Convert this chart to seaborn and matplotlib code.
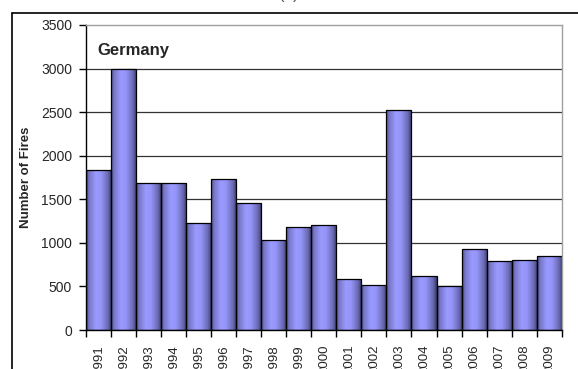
import matplotlib
matplotlib.use('Agg')
import matplotlib.pyplot as plt
import seaborn as sns
import numpy as np
import pandas as pd
from matplotlib.colors import LinearSegmentedColormap
from matplotlib.lines import Line2D

# ---- data ----
years = ['1991', '1992', '1993', '1994', '1995', '1996', '1997', '1998', '1999', '2000',
         '2001', '2002', '2003', '2004', '2005', '2006', '2007', '2008', '2009']
fires = [1840, 3000, 1690, 1690, 1230, 1735, 1460, 1030, 1180, 1200,
         590, 515, 2520, 615, 500, 925, 790, 800, 845]
y_ticks = [0, 500, 1000, 1500, 2000, 2500, 3000, 3500]
country = 'Germany'
y_title = 'Number of Fires'

sns.set_theme(style='white')
plt.rcParams['font.family'] = ['Liberation Sans', 'DejaVu Sans']

W, H = 578, 369
fig = plt.figure(figsize=(W / 100, H / 100), dpi=100)
ax = fig.add_axes([86 / W, 39 / H, 475.7 / W, 305 / H])

df = pd.DataFrame({'year': years, 'fires': fires})
sns.barplot(data=df, x='year', y='fires', order=years, color='#9999ff',
            width=1.0, edgecolor='black', linewidth=0.9, ax=ax, zorder=3)

# cylinder-like horizontal gradient inside each bar
cmap = LinearSegmentedColormap.from_list(
    'bar', [(0.0, '#4e4e8a'), (0.12, '#7777c8'), (0.38, '#9a9aff'),
            (0.58, '#9595f8'), (0.85, '#6a6ab4'), (1.0, '#3a3a6a')])
grad = np.linspace(0, 1, 64).reshape(1, -1)
for p in ax.patches:
    x0, w, h = p.get_x(), p.get_width(), p.get_height()
    im = ax.imshow(grad, extent=[x0, x0 + w, 0, h], aspect='auto', cmap=cmap,
                   interpolation='bilinear', zorder=2)
    im.set_clip_path(p)
    p.set_facecolor('none')
    p.set_zorder(3)

ax.set_aspect('auto')
ax.set_xlim(-0.5, len(years) - 0.5)
ax.set_ylim(y_ticks[0], y_ticks[-1])
ax.set_yticks(y_ticks)
ax.set_yticklabels([str(t) for t in y_ticks], fontsize=10)
ax.set_xticks(range(len(years)))
ax.set_xticklabels(years, rotation=90, fontsize=9.5)
ax.set_xticks(np.arange(-0.5, len(years), 1), minor=True)

ax.tick_params(axis='x', which='major', length=0, pad=10.5)
ax.tick_params(axis='x', which='minor', length=5, width=1, color='black',
               direction='out', bottom=True)
ax.tick_params(axis='y', which='major', length=5, width=1, color='black',
               direction='out', left=True, pad=5)

ax.yaxis.grid(True, color='#333333', linewidth=0.9)
ax.xaxis.grid(False)
ax.set_axisbelow(True)
gl = ax.yaxis.get_gridlines()
gl[0].set_visible(False)
gl[-1].set_visible(False)

for s in ['left', 'bottom']:
    ax.spines[s].set_color('black')
    ax.spines[s].set_linewidth(1.0)
for s in ['top', 'right']:
    ax.spines[s].set_color('#a0a0a0')
    ax.spines[s].set_linewidth(1.0)
for s in ax.spines.values():
    s.set_zorder(4)

ax.set_xlabel('')
ax.set_ylabel(y_title, fontsize=9.5, fontweight='bold')
ax.yaxis.set_label_coords(-0.114, 0.5)

ax.text(0.023, 0.918, country, transform=ax.transAxes, fontsize=12,
        fontweight='bold', ha='left', va='center', zorder=5)

# outer frame of the panel
fig.add_artist(Line2D([12 / W, 12 / W], [0, 1 - 13 / H], transform=fig.transFigure,
                      color='black', linewidth=1.2))
fig.add_artist(Line2D([12 / W, 1], [1 - 13 / H, 1 - 13 / H], transform=fig.transFigure,
                      color='black', linewidth=1.2))
fig.text(289 / W, 1 - 2 / H, '(c)', ha='center', va='bottom', fontsize=12,
         color='#555555')

fig.savefig('out.png', dpi=100)
